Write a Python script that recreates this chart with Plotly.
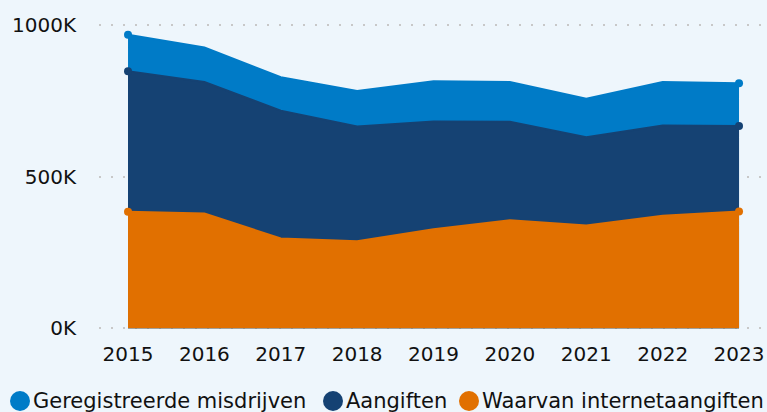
import plotly.graph_objects as go

years = [2015, 2016, 2017, 2018, 2019, 2020, 2021, 2022, 2023]
geregistreerd = [967000, 925000, 827000, 782000, 814000, 811000, 756000, 811000, 807000]
aangiften = [847000, 811000, 717000, 665000, 681000, 680000, 629000, 668000, 666000]
internet = [384000, 378000, 296000, 287000, 326000, 356000, 339000, 371000, 385000]

y_ticks = [0, 500000, 1000000]
y_labels = ['0K', '500K', '1000K']

series = [
    ('Geregistreerde misdrijven', geregistreerd, '#007bc7'),
    ('Aangiften', aangiften, '#154273'),
    ('Waarvan internetaangiften', internet, '#e17000'),
]

bg = '#eef6fc'
font = 'DejaVu Sans, Verdana, sans-serif'

W, H = 767, 412
ML, MR, MT, MB = 99, 2, 23, 82
plot_w = W - ML - MR
plot_h = H - MT - MB


def px_x(px):
    return (px - ML) / plot_w


def px_y(py):
    return (H - MB - py) / plot_h


fig = go.Figure()

for name, values, color in series:
    sizes = [8] + [0] * (len(values) - 2) + [8]
    fig.add_trace(go.Scatter(
        x=years,
        y=values,
        name=name,
        mode='lines+markers',
        fill='tozeroy',
        fillcolor=color,
        line=dict(color=color, width=2),
        marker=dict(size=sizes, color=color, opacity=1, line=dict(width=0)),
        showlegend=False,
        hovertemplate='%{x}: %{y:,.0f}<extra>' + name + '</extra>'
    ))

# legend drawn by hand so it stays on one row like the original
legend_dot_x = [20, 333, 469]
legend_y = 401
for (name, values, color), cx in zip(series, legend_dot_x):
    fig.add_shape(
        type='circle',
        xref='paper', yref='paper',
        xsizemode='pixel', ysizemode='pixel',
        xanchor=px_x(cx), yanchor=px_y(legend_y),
        x0=-10, x1=10, y0=-10, y1=10,
        fillcolor=color, line=dict(width=0)
    )
    fig.add_annotation(
        xref='paper', yref='paper',
        x=px_x(cx + 11), y=px_y(legend_y),
        xanchor='left', yanchor='middle',
        text=name, showarrow=False,
        font=dict(size=21, color='#111111')
    )

fig.update_layout(
    width=W,
    height=H,
    margin=dict(l=ML, r=MR, t=MT, b=MB, autoexpand=False),
    plot_bgcolor=bg,
    paper_bgcolor=bg,
    font=dict(family=font, size=20, color='#111111'),
    showlegend=False,
    xaxis=dict(
        range=[2014.62, 2023.34],
        tickvals=years,
        ticktext=[str(y) for y in years],
        showgrid=False,
        zeroline=False,
        showline=False,
        ticks='outside',
        ticklen=6,
        tickcolor='rgba(0,0,0,0)'
    ),
    yaxis=dict(
        range=[-5500, 1005500],
        tickvals=y_ticks,
        ticktext=y_labels,
        showgrid=True,
        gridcolor='#c8c8c8',
        gridwidth=2,
        griddash='2px,10px',
        zeroline=False,
        showline=False,
        ticks='outside',
        ticklen=18,
        tickcolor='rgba(0,0,0,0)'
    )
)

fig.write_html('out.html', config={'displayModeBar': False},
               post_script="document.body.style.margin='0';")
